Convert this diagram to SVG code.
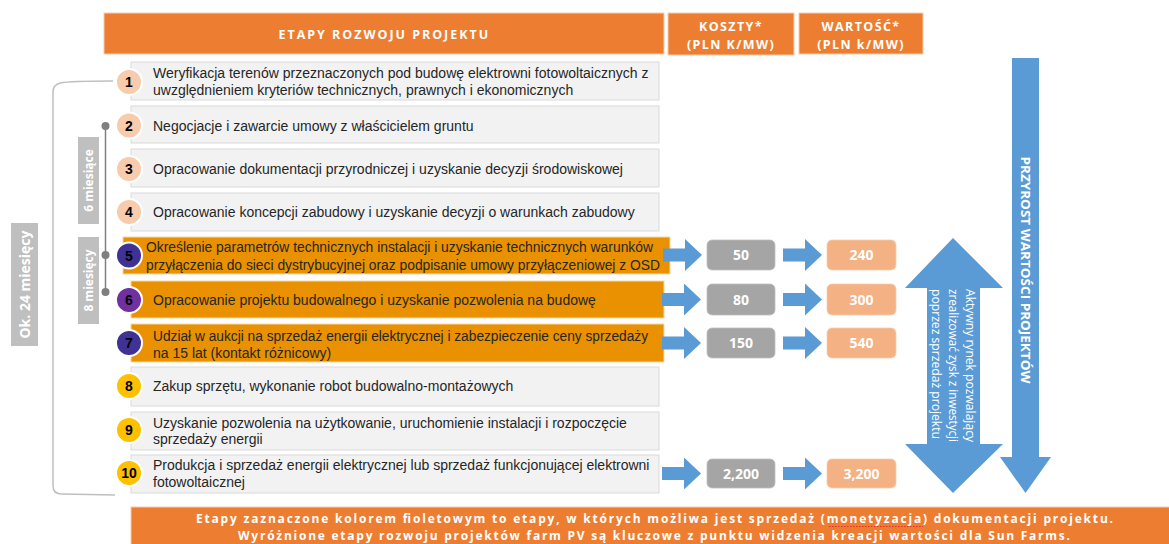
<svg xmlns="http://www.w3.org/2000/svg" width="1169" height="544" viewBox="0 0 1169 544">
<style>
.hdr{fill:#ED7D31;stroke:#F8CBAD;stroke-width:1}
.hdrt{font-family:"Open Sans","Liberation Sans",sans-serif;font-weight:bold;font-size:12.5px;fill:#fff;letter-spacing:1.4px;text-anchor:middle}
.row{fill:#F2F2F2;stroke:#DADADA;stroke-width:1}
.rowo{fill:#E99100;stroke:#F5D7A8;stroke-width:1}
.rt{font-family:"Liberation Sans",Arial,sans-serif;font-size:14px;fill:#262626}
.num{font-family:"Liberation Sans",Arial,sans-serif;font-size:14px;font-weight:bold;fill:#000;text-anchor:middle}
.c{stroke:#fff;stroke-width:2}
.gb{fill:#A5A5A5;stroke:#BFBFBF;stroke-width:0.8}
.pb{fill:#F4B183;stroke:#F8CBAD;stroke-width:0.8}
.bt{font-family:"Open Sans","Liberation Sans",sans-serif;font-size:14px;font-weight:bold;fill:#fff;text-anchor:middle}
.blue{fill:#5B9BD5}
.lbl{fill:#BFBFBF}
.lt{font-family:"Open Sans","Liberation Sans",sans-serif;font-weight:bold;fill:#fff;text-anchor:middle}
.ban{font-family:"Open Sans","Liberation Sans",sans-serif;font-weight:bold;font-size:12px;fill:#fff;text-anchor:middle}
</style>

<!-- headers -->
<g id="header-etapy">
<rect class="hdr" x="104" y="13" width="560" height="41"/>
<text class="hdrt" x="384" y="38.5" textLength="211" lengthAdjust="spacing">ETAPY ROZWOJU PROJEKTU</text>
</g>
<g id="header-koszty">
<rect class="hdr" x="668" y="13" width="126" height="42"/>
<text class="hdrt" x="731" y="31">KOSZTY*</text>
<text class="hdrt" x="731" y="49">(PLN K/MW)</text>
</g>
<g id="header-wartosc">
<rect class="hdr" x="799" y="13" width="124" height="41"/>
<text class="hdrt" x="861" y="31">WARTOŚĆ*</text>
<text class="hdrt" x="861" y="49">(PLN k/MW)</text>
</g>

<!-- left brackets and timing labels -->
<g id="bracket-24">
<path d="M113,81 Q70,81 60,83 Q53,85 53,92 L53,486 Q53,494 62,494 L115,495" fill="none" stroke="#BFBFBF" stroke-width="1.5"/>
<rect class="lbl" x="11" y="223" width="27" height="123"/>
<text class="lt" font-size="14" transform="translate(29.5,284.5) rotate(-90)">Ok. 24 miesięcy</text>
</g>
<g id="bracket-small">
<line x1="105.5" y1="126" x2="105.5" y2="292" stroke="#7F7F7F" stroke-width="1.5"/>
<circle cx="105.5" cy="126" r="4" fill="#7F7F7F"/>
<circle cx="105.5" cy="255" r="4" fill="#7F7F7F"/>
<circle cx="105.5" cy="292" r="4" fill="#7F7F7F"/>
</g>
<g id="label-6m">
<rect class="lbl" x="78" y="137" width="21" height="87"/>
<text class="lt" font-size="12" transform="translate(92.8,180.5) rotate(-90)">6 miesiące</text>
</g>
<g id="label-8m">
<rect class="lbl" x="78" y="237" width="21" height="87"/>
<text class="lt" font-size="12" transform="translate(92.8,280.5) rotate(-90)">8 miesięcy</text>
</g>

<!-- stages -->
<g id="stage1">
<rect class="row" x="131" y="62" width="528" height="38"/>
<circle class="c" cx="129" cy="82" r="13" fill="#F8CBAD"/>
<text class="num" x="129" y="87">1</text>
<text class="rt" x="153" y="77.5">Weryfikacja terenów przeznaczonych pod budowę elektrowni fotowoltaicznych z</text>
<text class="rt" x="153" y="94.5">uwzględnieniem kryteriów technicznych, prawnych i ekonomicznych</text>
</g>
<g id="stage2">
<rect class="row" x="131" y="106" width="528" height="37"/>
<circle class="c" cx="129" cy="125.5" r="13" fill="#F8CBAD"/>
<text class="num" x="129" y="130.5">2</text>
<text class="rt" x="153" y="130.5">Negocjacje i zawarcie umowy z właścicielem gruntu</text>
</g>
<g id="stage3">
<rect class="row" x="131" y="149" width="528" height="38"/>
<circle class="c" cx="129" cy="169" r="13" fill="#F8CBAD"/>
<text class="num" x="129" y="174">3</text>
<text class="rt" x="153" y="174">Opracowanie dokumentacji przyrodniczej i uzyskanie decyzji środowiskowej</text>
</g>
<g id="stage4">
<rect class="row" x="131" y="193" width="528" height="38"/>
<circle class="c" cx="129" cy="212" r="13" fill="#F8CBAD"/>
<text class="num" x="129" y="217">4</text>
<text class="rt" x="153" y="217">Opracowanie koncepcji zabudowy i uzyskanie decyzji o warunkach zabudowy</text>
</g>
<g id="stage5">
<rect class="rowo" x="123" y="237" width="547" height="37"/>
<circle class="c" cx="129" cy="255.5" r="13" fill="#403294"/>
<text class="num" x="129" y="260.5">5</text>
<text class="rt" x="146" y="251.5" textLength="507" lengthAdjust="spacingAndGlyphs">Określenie parametrów technicznych instalacji i uzyskanie technicznych warunków</text>
<text class="rt" x="146" y="269.5" textLength="514" lengthAdjust="spacingAndGlyphs">przyłączenia do sieci dystrybucyjnej oraz podpisanie umowy przyłączeniowej z OSD</text>
</g>
<g id="stage6">
<rect class="rowo" x="131" y="281" width="533" height="37"/>
<circle class="c" cx="129" cy="300" r="13" fill="#7030A0"/>
<text class="num" x="129" y="305">6</text>
<text class="rt" x="153" y="305">Opracowanie projektu budowalnego i uzyskanie pozwolenia na budowę</text>
</g>
<g id="stage7">
<rect class="rowo" x="131" y="324" width="533" height="38"/>
<circle class="c" cx="129" cy="343" r="13" fill="#403294"/>
<text class="num" x="129" y="348">7</text>
<text class="rt" x="153" y="340.5" textLength="495" lengthAdjust="spacingAndGlyphs">Udział w aukcji na sprzedaż energii elektrycznej i zabezpieczenie ceny sprzedaży</text>
<text class="rt" x="153" y="357.5">na 15 lat (kontakt różnicowy)</text>
</g>
<g id="stage8">
<rect class="row" x="131" y="367" width="528" height="39"/>
<circle class="c" cx="129" cy="386" r="13" fill="#FFC000"/>
<text class="num" x="129" y="391">8</text>
<text class="rt" x="153" y="391">Zakup sprzętu, wykonanie robot budowalno-montażowych</text>
</g>
<g id="stage9">
<rect class="row" x="131" y="412" width="528" height="38"/>
<circle class="c" cx="129" cy="430" r="13" fill="#FFC000"/>
<text class="num" x="129" y="435">9</text>
<text class="rt" x="153" y="427.5">Uzyskanie pozwolenia na użytkowanie, uruchomienie instalacji i rozpoczęcie</text>
<text class="rt" x="153" y="443.5">sprzedaży energii</text>
</g>
<g id="stage10">
<rect class="row" x="131" y="455" width="528" height="38"/>
<circle class="c" cx="129" cy="473" r="13" fill="#FFC000"/>
<text class="num" x="129" y="478">10</text>
<text class="rt" x="153" y="469.5">Produkcja i sprzedaż energii elektrycznej lub sprzedaż funkcjonującej elektrowni</text>
<text class="rt" x="153" y="486.5">fotowoltaicznej</text>
</g>

<!-- cost / value boxes -->
<g id="cost5"><rect class="gb" x="707" y="240" width="68" height="30" rx="5"/><text class="bt" x="741" y="260">50</text></g>
<g id="value5"><rect class="pb" x="827" y="240" width="69" height="30" rx="5"/><text class="bt" x="861.5" y="260">240</text></g>
<g id="cost6"><rect class="gb" x="707" y="284" width="68" height="31" rx="5"/><text class="bt" x="741" y="304.5">80</text></g>
<g id="value6"><rect class="pb" x="827" y="284" width="69" height="31" rx="5"/><text class="bt" x="861.5" y="304.5">300</text></g>
<g id="cost7"><rect class="gb" x="707" y="328" width="68" height="30" rx="5"/><text class="bt" x="741" y="348">150</text></g>
<g id="value7"><rect class="pb" x="827" y="328" width="69" height="30" rx="5"/><text class="bt" x="861.5" y="348">540</text></g>
<g id="cost10"><rect class="gb" x="707" y="459" width="68" height="29" rx="5"/><text class="bt" x="741" y="478.5">2,200</text></g>
<g id="value10"><rect class="pb" x="827" y="459" width="69" height="29" rx="5"/><text class="bt" x="861.5" y="478.5">3,200</text></g>

<!-- connectors -->
<defs>
<path id="arr" d="M0,-6.5 L22,-6.5 L22,-16 L39,0 L22,16 L22,6.5 L0,6.5 Z"/>
</defs>
<g id="connectors" class="blue">
<use href="#arr" x="663" y="255"/>
<use href="#arr" x="783" y="255"/>
<use href="#arr" x="662" y="299.5"/>
<use href="#arr" x="783" y="299.5"/>
<use href="#arr" x="662" y="343"/>
<use href="#arr" x="783" y="343"/>
<use href="#arr" x="662" y="473.5"/>
<use href="#arr" x="783" y="473.5"/>
</g>

<!-- market double arrow -->
<g id="market-arrow">
<polygon class="blue" points="953,238 1003,288 980,288 980,444 1003,444 953,493 905,444 927,444 927,288 905,288"/>
<g font-family="'Open Sans','Liberation Sans',sans-serif" font-size="12" fill="#fff">
<text transform="translate(966,289) rotate(90)" textLength="153" lengthAdjust="spacingAndGlyphs">Aktywny rynek pozwalający</text>
<text transform="translate(949,289) rotate(90)" textLength="153" lengthAdjust="spacingAndGlyphs">zrealizować zysk z inwestycji</text>
<text transform="translate(932,289) rotate(90)" textLength="150" lengthAdjust="spacingAndGlyphs">poprzez sprzedaż projektu</text>
</g>
</g>

<!-- value growth arrow -->
<g id="value-growth">
<polygon class="blue" points="1012,58 1039,58 1039,457 1051,457 1025.5,493 1000,457 1012,457"/>
<text class="lt" font-size="13" transform="translate(1021,270) rotate(90)" textLength="227" lengthAdjust="spacingAndGlyphs">PRZYROST WARTOŚCI PROJEKTÓW</text>
</g>

<!-- bottom banner -->
<g id="banner">
<rect x="131" y="507" width="1040" height="40" fill="#ED7D31" stroke="#F8CBAD" stroke-width="1"/>
<text class="ban" x="654.5" y="523" textLength="917" lengthAdjust="spacing">Etapy zaznaczone kolorem fioletowym to etapy, w których możliwa jest sprzedaż (monetyzacja) dokumentacji projektu.</text>
<line x1="829" y1="526.5" x2="923" y2="526.5" stroke="#E03030" stroke-width="1" stroke-dasharray="1.5,1.5"/>
<text class="ban" x="654" y="540" textLength="832" lengthAdjust="spacing">Wyróżnione etapy rozwoju projektów farm PV są kluczowe z punktu widzenia kreacji wartości dla Sun Farms.</text>
</g>
</svg>
